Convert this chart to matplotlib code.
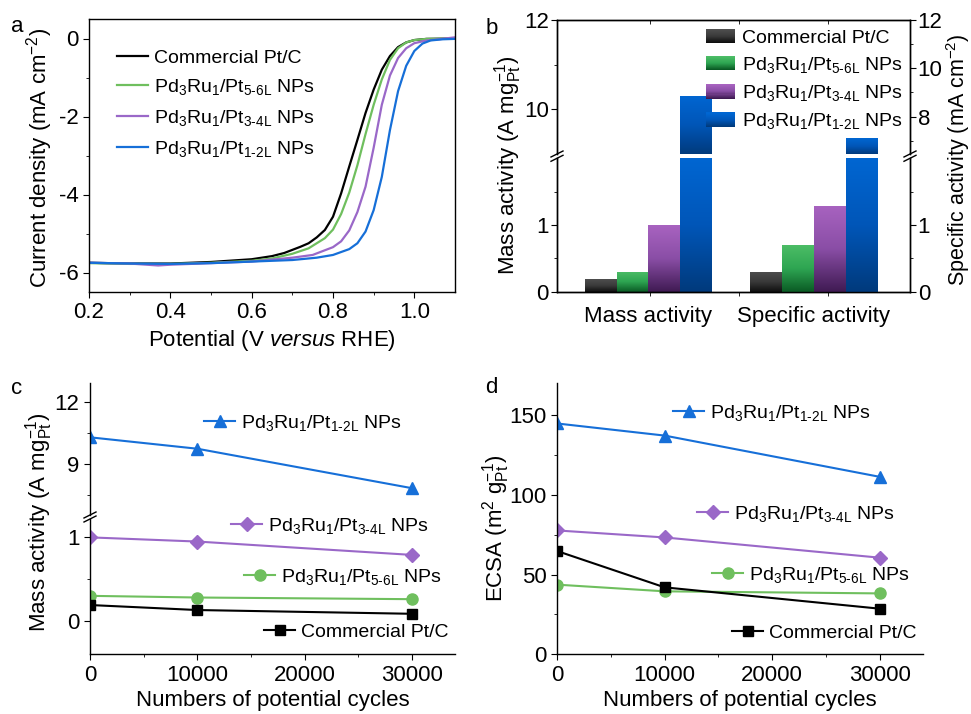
import numpy as np
import matplotlib
matplotlib.use('Agg')
import matplotlib.pyplot as plt
from matplotlib.patches import Rectangle
from matplotlib.lines import Line2D
from matplotlib.legend_handler import HandlerBase
from matplotlib.colors import LinearSegmentedColormap

plt.rcParams['font.family'] = ['Liberation Sans', 'DejaVu Sans']
plt.rcParams['mathtext.fontset'] = 'custom'
plt.rcParams['mathtext.rm'] = 'Liberation Sans'
plt.rcParams['mathtext.it'] = 'Liberation Sans:italic'
plt.rcParams['mathtext.default'] = 'regular'
plt.rcParams['axes.linewidth'] = 1.0
plt.rcParams['axes.unicode_minus'] = False

# ---- labels / colours ----
lab_pt = 'Commercial Pt/C'
lab_56 = r'Pd$_3$Ru$_1$/Pt$_{\text{5-6L}}$ NPs'
lab_34 = r'Pd$_3$Ru$_1$/Pt$_{\text{3-4L}}$ NPs'
lab_12 = r'Pd$_3$Ru$_1$/Pt$_{\text{1-2L}}$ NPs'
c_pt, c_56, c_34, c_12 = '#000000', '#6fbf5e', '#9a68c8', '#166fd8'

# ---- panel a: LSV curves ----
E_pt = [0.2, 0.3, 0.4, 0.5, 0.6, 0.65, 0.68, 0.7, 0.72, 0.74, 0.76, 0.78, 0.8, 0.82, 0.84,
        0.86, 0.88, 0.9, 0.92, 0.94, 0.96, 0.98, 1.0, 1.03, 1.1]
j_pt = [-5.75, -5.77, -5.77, -5.73, -5.66, -5.58, -5.5, -5.42, -5.34, -5.25, -5.1, -4.91, -4.57,
        -3.97, -3.28, -2.6, -1.91, -1.31, -0.8, -0.45, -0.22, -0.1, -0.04, -0.01, 0.0]
E_56 = [0.2, 0.3, 0.4, 0.5, 0.6, 0.65, 0.7, 0.74, 0.78, 0.8, 0.82, 0.84, 0.86, 0.88, 0.9,
        0.92, 0.94, 0.96, 0.98, 1.0, 1.03, 1.1]
j_56 = [-5.76, -5.78, -5.78, -5.75, -5.7, -5.64, -5.52, -5.38, -5.12, -4.9, -4.5, -3.95, -3.25,
        -2.45, -1.7, -1.05, -0.55, -0.25, -0.1, -0.04, -0.01, 0.0]
E_34 = [0.2, 0.3, 0.37, 0.4, 0.5, 0.6, 0.7, 0.75, 0.8, 0.82, 0.84, 0.86, 0.88, 0.9, 0.92,
        0.94, 0.96, 0.98, 1.0, 1.03, 1.06, 1.1]
j_34 = [-5.75, -5.77, -5.82, -5.8, -5.76, -5.72, -5.62, -5.55, -5.35, -5.2, -4.92, -4.45, -3.8,
        -2.8, -1.7, -0.95, -0.5, -0.25, -0.12, -0.05, -0.02, 0.03]
E_12 = [0.2, 0.3, 0.4, 0.5, 0.6, 0.7, 0.76, 0.8, 0.84, 0.86, 0.88, 0.9, 0.92, 0.94, 0.96,
        0.98, 1.0, 1.02, 1.04, 1.07, 1.1]
j_12 = [-5.75, -5.77, -5.78, -5.76, -5.72, -5.68, -5.62, -5.55, -5.4, -5.25, -4.95, -4.4, -3.55,
        -2.35, -1.35, -0.7, -0.32, -0.13, -0.05, -0.02, -0.01]

# ---- panel b: activities ----
groups = ['Mass activity', 'Specific activity']
mass_act = [0.19, 0.30, 1.00, 10.3]      # A mg_Pt^-1
spec_act = [0.30, 0.70, 1.29, 7.1]       # mA cm^-2

# ---- panels c, d: durability ----
cycles = [0, 10000, 30000]
ma_pt = [0.19, 0.13, 0.085]
ma_56 = [0.30, 0.28, 0.26]
ma_34 = [1.00, 0.95, 0.79]
ma_12 = [10.3, 9.75, 7.85]
ecsa_pt = [64.8, 42.0, 28.6]
ecsa_56 = [43.7, 39.5, 38.2]
ecsa_34 = [77.7, 73.3, 60.6]
ecsa_12 = [144.8, 137.2, 111.3]

W, H = 971, 714
fig = plt.figure(figsize=(W / 100, H / 100), dpi=100)


def px_axes(l, t, r, b):
    return fig.add_axes([l / W, 1 - b / H, (r - l) / W, (b - t) / H])


def fx(x):
    return x / W


def fy(y):
    return 1 - y / H


TS, LS, GS = 16, 16, 14   # tick, label, legend sizes


def ylab(xp, yp, s, size=LS):
    fig.text(fx(xp), fy(yp), s, rotation=90, ha='center', va='center', fontsize=size)


# ================= panel a =================
ax = px_axes(89, 19, 455, 292)
for E, j, c, lab in [(E_pt, j_pt, c_pt, lab_pt), (E_56, j_56, c_56, lab_56),
                     (E_34, j_34, c_34, lab_34), (E_12, j_12, c_12, lab_12)]:
    ax.plot(E, j, color=c, lw=1.6, label=lab)
ax.set_xlim(0.2, 1.1)
ax.set_ylim(-6.5, 0.5)
ax.set_xticks([0.2, 0.4, 0.6, 0.8, 1.0])
ax.set_xticks([0.3, 0.5, 0.7, 0.9], minor=True)
ax.set_yticks([0, -2, -4, -6])
ax.set_yticks([-1, -3, -5], minor=True)
ax.tick_params(direction='out', labelsize=TS, length=4)
ax.tick_params(which='minor', direction='out', length=2.5)
ax.set_xlabel(r'Potential (V $\it{versus}$ RHE)', fontsize=LS, labelpad=3)
ylab(40, 158, r'Current density (mA cm$^{-2}$)')
ax.legend(loc='upper left', bbox_to_anchor=(fx(117), fy(49)), bbox_transform=fig.transFigure,
          frameon=False, fontsize=GS, handlelength=1.6, handletextpad=0.3,
          labelspacing=0.55, borderpad=0, borderaxespad=0)

# ================= panel b =================
cm_pt = LinearSegmentedColormap.from_list('pt', ['#0e0e0e', '#3a3a3a', '#4e4e4e'])
cm_56 = LinearSegmentedColormap.from_list('g', ['#0a5a24', '#2ea552', '#4cbd66'])
cm_34 = LinearSegmentedColormap.from_list('p', ['#3f1a52', '#8a4ea6', '#a863c0'])
cm_12 = LinearSegmentedColormap.from_list('b', ['#003a7c', '#0056b8', '#0066d2'])
cmaps = [cm_pt, cm_56, cm_34, cm_12]

bw = 0.356
centers = [0.98, 2.84]
offs = np.array([-1.5, -0.5, 0.5, 1.5]) * bw
xl = (-0.045, 3.92)

ax_bl = px_axes(557, 158.3, 910, 291.7)
ax_tl = px_axes(557, 20, 910, 154)
ax_br = ax_bl.twinx()
ax_tr = ax_tl.twinx()

ax_bl.set_ylim(0, 2.0)
ax_br.set_ylim(0, 2.0)
ax_tl.set_ylim(9, 12)
ax_tr.set_ylim(6.45, 12)
grad = np.linspace(0, 1, 256).reshape(-1, 1)


def grad_bars(a, xs, vals):
    lo, hi = a.get_ylim()
    bars = a.bar(xs, vals, width=bw, color=[cm(0.6) for cm in cmaps], edgecolor='none')
    for b, v, cm in zip(bars, vals, cmaps):
        top = min(v, hi)
        bot = max(0, lo)
        if top <= bot:
            continue
        im = a.imshow(grad, extent=(b.get_x(), b.get_x() + b.get_width(), bot, top),
                      origin='lower', cmap=cm, aspect='auto', zorder=b.get_zorder() + 0.1)
        im.set_clip_path(b)
    a.set_ylim(lo, hi)
    a.set_xlim(*xl)


grad_bars(ax_bl, centers[0] + offs, mass_act)
grad_bars(ax_tl, centers[0] + offs, mass_act)
grad_bars(ax_br, centers[1] + offs, spec_act)
grad_bars(ax_tr, centers[1] + offs, spec_act)

for a in (ax_bl, ax_br):
    a.spines['top'].set_visible(False)
for a in (ax_tl, ax_tr):
    a.spines['bottom'].set_visible(False)

ax_bl.set_yticks([0, 1])
ax_bl.set_yticks([0.5, 1.5], minor=True)
ax_br.set_yticks([0, 1])
ax_br.set_yticks([0.5, 1.5], minor=True)
ax_tl.set_yticks([10, 12])
ax_tl.set_yticks([11], minor=True)
ax_tr.set_yticks([8, 10, 12])
ax_tr.set_yticks([7, 9, 11], minor=True)
for a in (ax_bl, ax_br, ax_tl, ax_tr):
    a.tick_params(axis='y', direction='out', labelsize=TS, length=4, pad=2)
    a.tick_params(axis='y', which='minor', direction='out', length=2.5)
for a in (ax_br, ax_tr):
    a.tick_params(axis='y', pad=1.5)

ax_bl.set_xticks(centers)
ax_bl.set_xticklabels(groups, fontsize=TS)
ax_bl.set_xticks([1, 2, 3], minor=True)
ax_bl.tick_params(axis='x', which='major', length=0, pad=10)
ax_bl.tick_params(axis='x', which='minor', direction='out', length=3)
ax_tl.set_xticks([])
ax_tl.set_xticks([1, 2, 3], minor=True)
ax_tl.tick_params(axis='x', which='minor', bottom=False, top=True, direction='in', length=3)

ylab(508, 165, r'Mass activity (A mg$_{Pt}^{-1}$)')
ylab(958, 160, r'Specific activity (mA cm$^{-2}$)', size=15.5)


class GradHandler(HandlerBase):
    def __init__(self, cmap):
        super().__init__()
        self.cmap = cmap

    def create_artists(self, legend, orig_handle, xdescent, ydescent, width, height,
                       fontsize, trans):
        n = 14
        arts = []
        for i in range(n):
            arts.append(Rectangle((-xdescent, -ydescent + height * i / n), width,
                                  height / n * 1.08, facecolor=self.cmap(i / (n - 1)),
                                  edgecolor='none', transform=trans))
        return arts


hb = [Rectangle((0, 0), 1, 1) for _ in cmaps]
ax_tr.legend(hb, [lab_pt, lab_56, lab_34, lab_12], loc='upper right',
             bbox_to_anchor=(fx(903), fy(29)), bbox_transform=fig.transFigure,
             handler_map={h: GradHandler(cm) for h, cm in zip(hb, cmaps)},
             frameon=False, fontsize=GS, handlelength=1.5, handleheight=0.75,
             handletextpad=0.35, labelspacing=0.42, borderpad=0, borderaxespad=0)


def break_marks(xp, ys):
    for y in ys:
        fig.add_artist(Line2D([fx(xp - 6), fx(xp + 6)], [fy(y + 3), fy(y - 3)],
                              color='black', lw=1.0))


break_marks(557, [154, 158.3])
break_marks(910, [154, 158.3])

# ================= panel c =================
ax_cb = px_axes(90, 519, 455, 654.3)
ax_ct = px_axes(90, 383.3, 455, 515)
series_c = [(ma_12, c_12, '^', 9, lab_12), (ma_34, c_34, 'D', 7, lab_34),
            (ma_56, c_56, 'o', 8, lab_56), (ma_pt, c_pt, 's', 7, lab_pt)]
for a in (ax_cb, ax_ct):
    for v, c, m, ms, lab in series_c:
        a.plot(cycles, v, color=c, marker=m, ms=ms, lw=1.5)
    a.set_xlim(0, 34000)
    for s in ('top', 'right'):
        a.spines[s].set_visible(False)
ax_ct.spines['bottom'].set_visible(False)
ax_cb.set_ylim(-0.4, 1.22)
ax_ct.set_ylim(6.56, 12.9)
ax_cb.set_yticks([0, 1])
ax_cb.set_yticks([0.5], minor=True)
ax_ct.set_yticks([9, 12])
ax_ct.set_yticks([7.5, 10.5], minor=True)
ax_ct.set_xticks([])
ax_cb.set_xticks([0, 10000, 20000, 30000])
ax_cb.set_xticks([5000, 15000, 25000], minor=True)
for a in (ax_cb, ax_ct):
    a.tick_params(direction='out', labelsize=TS, length=4)
    a.tick_params(which='minor', direction='out', length=2.5)
ax_cb.set_xlabel('Numbers of potential cycles', fontsize=LS, labelpad=3)
ylab(39, 522, r'Mass activity (A mg$_{Pt}^{-1}$)')
break_marks(90, [515, 519])

# ================= panel d =================
ax_d = px_axes(557, 383.3, 923, 654.3)
series_d = [(ecsa_12, c_12, '^', 9, lab_12), (ecsa_34, c_34, 'D', 7, lab_34),
            (ecsa_56, c_56, 'o', 8, lab_56), (ecsa_pt, c_pt, 's', 7, lab_pt)]
for v, c, m, ms, lab in series_d:
    ax_d.plot(cycles, v, color=c, marker=m, ms=ms, lw=1.5)
ax_d.set_xlim(0, 34000)
ax_d.set_ylim(0, 170)
ax_d.set_xticks([0, 10000, 20000, 30000])
ax_d.set_xticks([5000, 15000, 25000], minor=True)
ax_d.set_yticks([0, 50, 100, 150])
ax_d.set_yticks([25, 75, 125], minor=True)
for s in ('top', 'right'):
    ax_d.spines[s].set_visible(False)
ax_d.tick_params(direction='out', labelsize=TS, length=4)
ax_d.tick_params(which='minor', direction='out', length=2.5)
ax_d.set_xlabel('Numbers of potential cycles', fontsize=LS, labelpad=3)
ylab(496, 528, r'ECSA (m$^2$ g$_{Pt}^{-1}$)')


# floating line+marker labels (pixel positions of the handle start)
def item(xp, yp, c, m, ms, lab):
    h = Line2D([], [], color=c, marker=m, ms=ms, lw=1.5)
    fig.legend([h], [lab], loc='center left', bbox_to_anchor=(fx(xp), fy(yp)),
               frameon=False, fontsize=GS, handlelength=1.6, handletextpad=0.3,
               numpoints=1, borderpad=0, borderaxespad=0)


item(204, 423, c_12, '^', 9, lab_12)
item(231, 526, c_34, 'D', 7, lab_34)
item(244, 577, c_56, 'o', 8, lab_56)
item(264, 632, c_pt, 's', 7, lab_pt)
item(673, 413, c_12, '^', 9, lab_12)
item(697, 514, c_34, 'D', 7, lab_34)
item(712, 575, c_56, 'o', 8, lab_56)
item(732, 633, c_pt, 's', 7, lab_pt)

# panel letters
for t, xp, yp in [('a', 17, 27), ('b', 492, 28), ('c', 17, 389), ('d', 491, 388)]:
    fig.text(fx(xp), fy(yp), t, ha='center', va='center', fontsize=16)

fig.savefig('out.png', dpi=100)
